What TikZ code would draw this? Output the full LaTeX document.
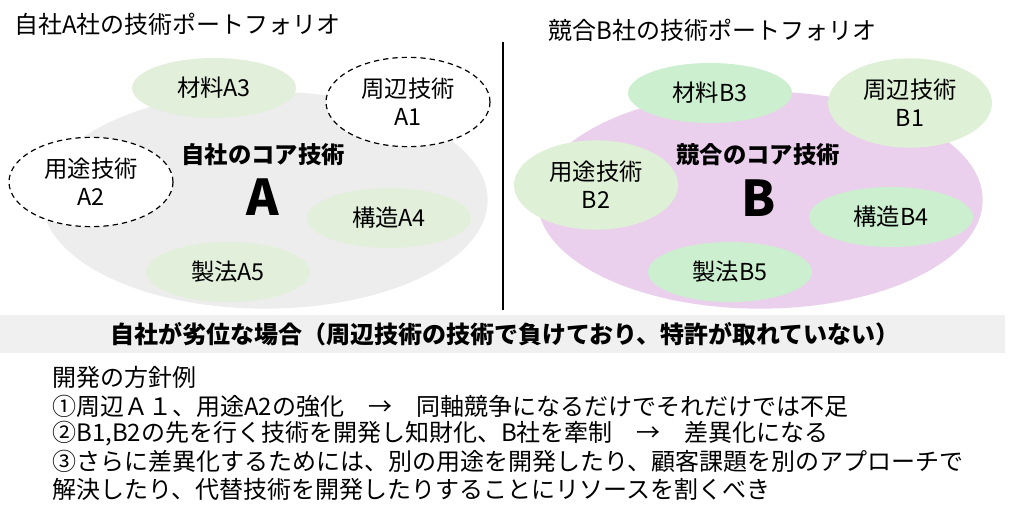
\documentclass[tikz,border=0pt]{standalone}
\usepackage{fontspec}
\setmainfont{Noto Sans CJK JP}
\usetikzlibrary{shapes.geometric}
\definecolor{coreA}{RGB}{237,237,237}
\definecolor{coreB}{RGB}{234,208,236}
\definecolor{leafA}{RGB}{226,239,218}
\definecolor{leafB}{RGB}{203,239,207}
\definecolor{leafC}{RGB}{222,240,214}
\definecolor{band}{RGB}{240,240,240}
\begin{document}
\begin{tikzpicture}[x=0.75pt,y=-0.75pt]

    \tikzset{
      core/.style={
        ellipse,
        inner sep=0pt,
        minimum width=334pt,
        minimum height=163pt,
      },
      tech/.style={
        ellipse,
        inner sep=0pt,
        align=center,
        minimum width=123pt,
        minimum height=45pt,
        font=\fontsize{17.5}{21}\selectfont,
      },
      wide/.style={
        tech,
        minimum height=67pt,
      },
      weak/.style={
        wide,
        draw,
        fill=white,
        line width=0.9pt,
        dash pattern=on 4pt off 3pt,
      },
      txt/.style={
        anchor=west,
        inner sep=0pt,
        font=\fontsize{18}{21}\selectfont,
      },
    }
    \useasboundingbox (0,0) rectangle (1024,528);
	\node (titleA) at (14,24) [txt] {自社A社の技術ポートフォリオ};
	\node (titleB) at (548,30) [txt] {競合B社の技術ポートフォリオ};
	\draw[color={black},line width=0.9pt] (503,42)--(503,310);
	% left
	\node (coreA) at (265,200) [core,fill=coreA] {};
	\node (A3) at (214,88) [tech,fill=leafA] {材料A3};
	\node (A1) at (408,102) [weak] {周辺技術\\A1};
	\node (A2) at (91,182) [weak] {用途技術\\A2};
	\node (A4) at (389,218) [tech,fill=leafA] {構造A4};
	\node (A5) at (228,272) [tech,fill=leafA] {製法A5};
	\node (coreAt) at (263,155) [font=\fontsize{17.5}{21}\selectfont\bfseries] {自社のコア技術};
	\node (coreAl) at (263,197) [font=\fontsize{37}{40}\selectfont\bfseries] {A};
	% right
	\node (coreB) at (760,200) [core,fill=coreB] {};
	\node (B3) at (710,93) [tech,fill=leafB] {材料B3};
	\node (B1) at (910,103) [wide,fill=leafC] {周辺技術\\B1};
	\node (B2) at (596,185) [wide,fill=leafC] {用途技術\\B2};
	\node (B4) at (891,217) [tech,fill=leafB] {構造B4};
	\node (B5) at (730,272) [tech,fill=leafB] {製法B5};
	\node (coreBt) at (758,155) [font=\fontsize{17.5}{21}\selectfont\bfseries] {競合のコア技術};
	\node (coreBl) at (759,198) [font=\fontsize{37}{40}\selectfont\bfseries] {B};
	% bottom
	\fill[color={band}] (0,315) rectangle (1005,353);
	\node (case) at (505,334) [font=\fontsize{18}{21}\selectfont\bfseries] {自社が劣位な場合（周辺技術の技術で負けており、特許が取れていない）};
	\node (plan) at (52,377) [txt] {開発の方針例};
	\node (p1) at (52,406) [txt] {①周辺Ａ１、用途A2の強化　→　同軸競争になるだけでそれだけでは不足};
	\node (p2) at (52,434) [txt] {②B1,B2の先を行く技術を開発し知財化、B社を牽制　→　差異化になる};
	\node (p3) at (52,461) [txt] {③さらに差異化するためには、別の用途を開発したり、顧客課題を別のアプローチで};
	\node (p4) at (52,489) [txt] {解決したり、代替技術を開発したりすることにリソースを割くべき};

\end{tikzpicture}
\end{document}
